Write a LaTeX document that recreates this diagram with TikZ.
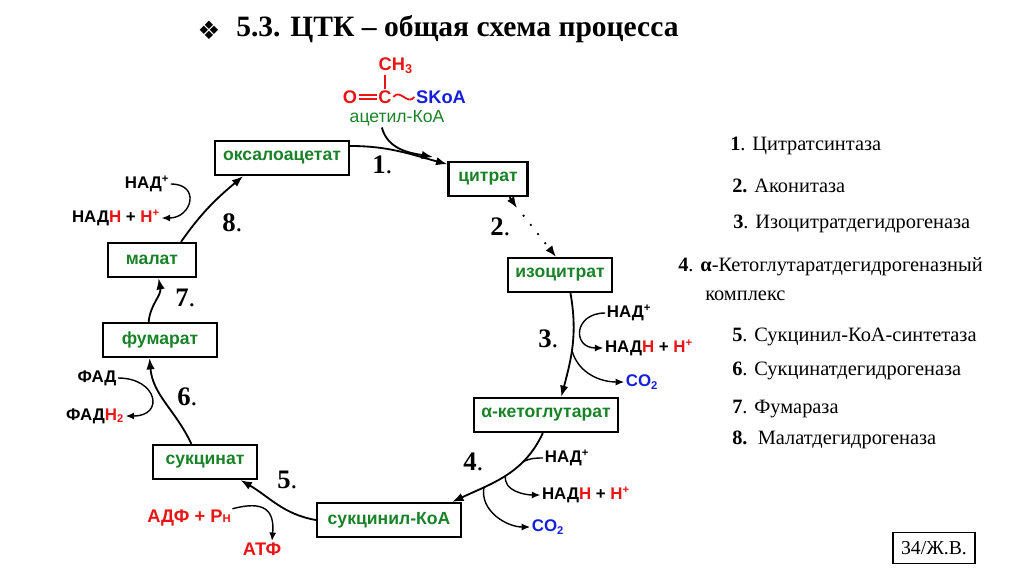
\documentclass[tikz,border=0pt]{standalone}
\usepackage{fontspec}
\setmainfont{Liberation Serif}
\setsansfont{Liberation Sans}
\newfontfamily\dingfont{DejaVu Sans}
\usepackage{tikz}
\usetikzlibrary{arrows.meta,calc}
\definecolor{boxgreen}{RGB}{25,130,40}
\definecolor{cofred}{RGB}{235,20,20}
\definecolor{cofblue}{RGB}{20,30,220}
\newcommand{\redpart}[1]{\textcolor{cofred}{#1}}
\tikzset{
  box/.style={draw, line width=1.6pt, inner sep=2pt, minimum height=0.85cm,
    font=\sffamily\bfseries\fontsize{12.5}{15}\selectfont, text=boxgreen},
  cof/.style={font=\sffamily\bfseries\fontsize{12}{14}\selectfont, inner sep=1pt},
  acyl/.style={font=\sffamily\bfseries\fontsize{13}{15}\selectfont, inner sep=1pt},
  bond/.style={cofred, line width=1.3pt},
  num/.style={font=\fontsize{19}{22}\selectfont, anchor=west, inner sep=0pt},
  enz/.style={font=\fontsize{14.5}{17}\selectfont, anchor=west, inner sep=0pt},
  cyc/.style={line width=1.3pt, -{Latex[length=8pt,width=6pt]}},
  aux/.style={line width=1pt, -{Latex[length=6pt,width=5pt]}},
}

\begin{document}
\begin{tikzpicture}[x=0.025cm, y=-0.025cm]
  \useasboundingbox (0,0) rectangle (1024,574);

  % title
  \node[font=\dingfont\fontsize{18}{18}\selectfont, inner sep=0pt] (mark) at (209,30) {❖};
  \node[font=\bfseries\fontsize{21}{24}\selectfont, anchor=west, inner sep=0pt] (title) at (236,29) {5.3. ЦТК – общая схема процесса};

  % acetyl-CoA
  \node[acyl, text=cofred] (oxy) at (350,97) {O};
  \node[acyl, text=cofred] (carb) at (385,97) {C};
  \node[acyl, text=cofred, anchor=south west] (meth) at (377,75) {CH\textsubscript{3}};
  \node[acyl, text=cofblue] (skoa) at (441,97) {SKoA};
  \node[font=\sffamily\fontsize{12.5}{15}\selectfont, text=boxgreen, inner sep=1pt] (acet) at (397,118) {ацетил-КоА};
  \draw[bond] ([yshift=0.06cm]oxy.east) -- ([yshift=0.06cm]carb.west);
  \draw[bond] ([yshift=-0.06cm]oxy.east) -- ([yshift=-0.06cm]carb.west);
  \draw[bond] (carb.north) -- (carb.north |- meth.south);
  \draw[bond] (carb.east) .. controls +(7,-9) and +(-7,9) .. (skoa.west);

  % metabolites
  \node[box, minimum width=3.35cm] (oxa) at (282,158) {оксалоацетат};
  \node[box, minimum width=1.98cm] (cit) at (488,179) {цитрат};
  \node[box, minimum width=2.6cm] (iso) at (560,275) {изоцитрат};
  \node[box, minimum width=3.6cm] (akg) at (546,415) {α-кетоглутарат};
  \node[box, minimum width=3.6cm] (sca) at (389,520) {сукцинил-КоА};
  \node[box, minimum width=2.6cm] (succ) at (205,462) {сукцинат};
  \node[box, minimum width=2.85cm] (fum) at (160,340) {фумарат};
  \node[box, minimum width=2.2cm] (mal) at (152,260) {малат};

  % cofactors
  \node[cof] (nad8) at (147,184) {НАД\textsuperscript{+}};
  \node[cof] (nadh8) at (116,218) {НАД\redpart{Н} + \redpart{Н\textsuperscript{+}}};
  \node[cof] (nad3) at (629,313) {НАД\textsuperscript{+}};
  \node[cof] (nadh3) at (649,348) {НАД\redpart{Н} + \redpart{Н\textsuperscript{+}}};
  \node[cof, text=cofblue] (co23) at (642,382) {CO\textsubscript{2}};
  \node[cof] (nad4) at (567,458) {НАД\textsuperscript{+}};
  \node[cof] (nadh4) at (586,495) {НАД\redpart{Н} + \redpart{Н\textsuperscript{+}}};
  \node[cof, text=cofblue] (co24) at (548,527) {CO\textsubscript{2}};
  \node[cof] (fad) at (97,378) {ФАД};
  \node[cof] (fadh) at (95,416) {ФАД\redpart{Н\textsubscript{2}}};
  \node[cof, text=cofred, font=\sffamily\bfseries\fontsize{13}{15}\selectfont] (adp) at (189,518) {АДФ + Р{\fontsize{8}{8}\selectfont Н}};
  \node[cof, text=cofred, font=\sffamily\bfseries\fontsize{13}{15}\selectfont] (atp) at (262,549) {АТФ};

  % cycle
  \draw[cyc] (oxa.10) to[out=0,in=165] (cit.160);
  \coordinate (join1) at (433,157);
  \draw[cyc] (acet.212) to[out=-75,in=170] (join1);
  \coordinate (c2a) at (517,208);
  \coordinate (c2b) at (523,215);
  \draw[cyc] (cit.-40) -- (c2a);
  \draw[cyc, dash pattern=on 1.3pt off 7pt] (c2b) -- ([xshift=-0.1cm]iso.north);
  \draw[cyc] (iso.-60) to[out=-80,in=75] coordinate[pos=0.55] (b3) (akg.50);
  \draw[cyc] (akg.-100) to[out=-115,in=25] coordinate[pos=0.3] (b4a)
    coordinate[pos=0.5] (b4b) coordinate[pos=0.72] (b4c) (sca.16);
  \draw[cyc] (sca.180) to[out=170,in=-30] (succ.-27);
  \draw[cyc] (succ.127) to[out=115,in=-85] (fum.-120);
  \draw[cyc] (fum.122) to[out=85,in=-80] (mal.-70);
  \draw[cyc] (mal.32) to[out=55,in=-140] (oxa.205);

  % side reactions
  \draw[aux] (nad8.east) to[out=0,in=0,looseness=2.2] (nadh8.east);
  \draw[aux] (nad3.west) to[out=180,in=180,looseness=2.3] (nadh3.west);
  \draw[aux] (b3) to[out=-75,in=180] (co23.west);
  \draw[line width=1pt] (nad4.west) to[out=180,in=30] (b4a);
  \draw[aux] (b4b) to[out=-100,in=180] (nadh4.west);
  \draw[aux] (b4c) to[out=-100,in=180] (co24.west);
  \draw[aux] (adp.12) to[out=15,in=85,looseness=1.6] ([xshift=0.25cm]atp.north);
  \draw[aux] (fad.east) to[out=0,in=0,looseness=2.6] (fadh.east);

  % step numbers
  \node[num] (n1) at (372,165) {\textbf{1}.};
  \node[num] (n2) at (490,227) {\textbf{2}.};
  \node[num] (n3) at (538,339) {\textbf{3}.};
  \node[num] (n4) at (463,462) {\textbf{4}.};
  \node[num] (n5) at (277,480) {\textbf{5}.};
  \node[num] (n6) at (177,397) {\textbf{6}.};
  \node[num] (n7) at (175,298) {\textbf{7}.};
  \node[num] (n8) at (222,223) {\textbf{8}.};

  % enzymes
  \node[enz] (e1) at (730,146) {\textbf{1}. Цитратсинтаза};
  \node[enz] (e2) at (732,186) {\textbf{2.} Аконитаза};
  \node[enz] (e3) at (733,224) {\textbf{3}. Изоцитратдегидрогеназа};
  \node[enz] (e4) at (678,267) {\textbf{4}. \textbf{α}-Кетоглутаратдегидрогеназный};
  \node[enz] (e4b) at (705,296) {комплекс};
  \node[enz] (e5) at (732,337) {\textbf{5}. Сукцинил-КоА-синтетаза};
  \node[enz] (e6) at (732,371) {\textbf{6}. Сукцинатдегидрогеназа};
  \node[enz] (e7) at (732,409) {\textbf{7}. Фумараза};
  \node[enz] (e8) at (732,440) {\textbf{8.}\ \ Малатдегидрогеназа};

  % page mark
  \node[draw, line width=0.8pt, font=\fontsize{14}{16}\selectfont, minimum width=2.05cm, minimum height=0.78cm] (page) at (934,548) {34/Ж.В.};
\end{tikzpicture}
\end{document}
